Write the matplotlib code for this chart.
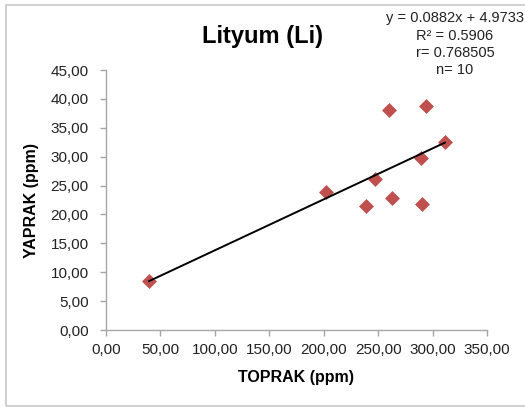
import matplotlib.pyplot as plt
from matplotlib.patches import Rectangle
from matplotlib.ticker import FuncFormatter, MultipleLocator

# soil (TOPRAK) vs leaf (YAPRAK) lithium, ppm
toprak = [39.5, 201.8, 238.5, 247.1, 260.3, 262.4, 289.4, 290.0, 293.7, 311.4]
yaprak = [8.53, 23.8, 21.45, 26.1, 38.06, 22.8, 29.7, 21.75, 38.8, 32.5]

slope = 0.0882
intercept = 4.9733
r2 = 0.5906
r = 0.768505
n = 10

plt.rcParams['font.family'] = ['Liberation Sans', 'DejaVu Sans']

fig = plt.figure(figsize=(5.25, 4.07), dpi=100)
fig.patches.append(Rectangle((6 / 525, 1 / 407), 1.2, 401 / 407, transform=fig.transFigure,
                             fill=False, edgecolor='#c8c8c8', linewidth=1.2))

ax = fig.add_axes([106 / 525, 1 - 330 / 407, 381 / 525, 260 / 407])

ax.scatter(toprak, yaprak, marker='D', s=50, color='#c0504d', edgecolors='#c0504d',
           linewidths=0.5, zorder=3)

x0, x1 = min(toprak), max(toprak)
ax.plot([x0, x1], [slope * x0 + intercept, slope * x1 + intercept],
        color='black', linewidth=1.4, zorder=4)

ax.set_xlim(0, 350)
ax.set_ylim(0, 45)
ax.xaxis.set_major_locator(MultipleLocator(50))
ax.yaxis.set_major_locator(MultipleLocator(5))
comma = FuncFormatter(lambda v, p: f"{v:.2f}".replace('.', ','))
ax.xaxis.set_major_formatter(comma)
ax.yaxis.set_major_formatter(comma)

for side in ('top', 'right'):
    ax.spines[side].set_visible(False)
for side in ('left', 'bottom'):
    ax.spines[side].set_color('#a6a6a6')
    ax.spines[side].set_linewidth(1.0)
ax.tick_params(direction='out', length=4.5, width=1.0, color='#a6a6a6',
               labelsize=11, labelcolor='#222222')
ax.tick_params(axis='x', pad=5)
ax.tick_params(axis='y', pad=8)

ax.set_xlabel('TOPRAK (ppm)', fontsize=11.5, fontweight='bold', labelpad=9)
ax.set_ylabel('YAPRAK (ppm)', fontsize=11.5, fontweight='bold', labelpad=8)

fig.text(262 / 525, 1 - 37 / 407, 'Lityum (Li)', fontsize=17, fontweight='bold',
         ha='center', va='center')

stats = [f"y = {slope}x + {intercept}", f"R² = {r2}", f"r= {r}", f"n= {n}"]
for i, line in enumerate(stats):
    fig.text(455 / 525, 1 - (18 + i * 17.5) / 407, line, fontsize=10.5,
             ha='center', va='center', color='#222222')

fig.savefig('out.png', dpi=100)
